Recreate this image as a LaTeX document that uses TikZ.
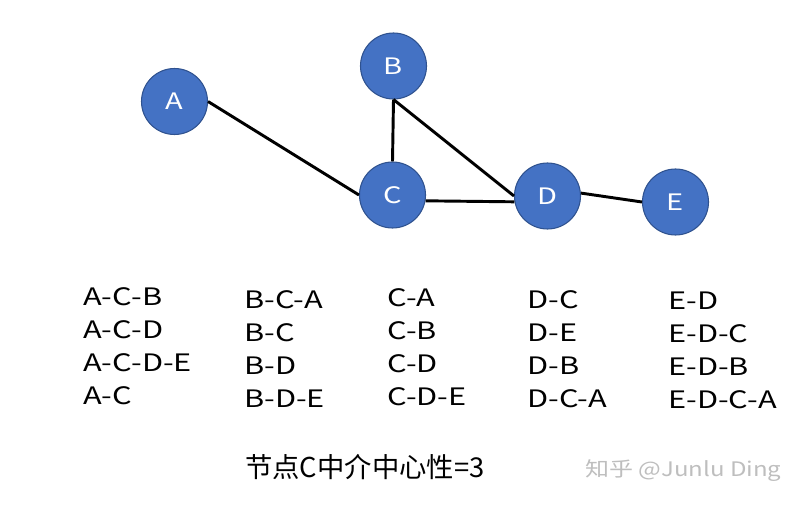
\documentclass[tikz,border=0pt]{standalone}
\usepackage{fontspec}
\setmainfont{Noto Sans CJK SC}
\newfontfamily\widefont[FakeStretch=1.28]{Noto Sans CJK SC}
\newfontfamily\markfont[FakeStretch=1.2]{Noto Sans CJK SC}
\usetikzlibrary{positioning}

\definecolor{nodeblue}{RGB}{68,114,196}
\definecolor{nodeedge}{RGB}{47,82,143}
\definecolor{markgray}{RGB}{190,190,190}

\tikzset{
    vertex/.style={circle, fill=nodeblue, draw=nodeedge, line width=0.8pt,
        minimum size=49.5pt, inner sep=0pt, text=white,
        font=\widefont\fontsize{17}{20}\selectfont},
    pathlist/.style={anchor=north west, inner sep=0pt, align=left,
        font=\widefont\fontsize{18}{24.75}\selectfont},
}

\begin{document}
\begin{tikzpicture}[x=0.75pt, y=-0.75pt]
\useasboundingbox (0,0) rectangle (800,506);

\begin{scope}[every node/.style={vertex}]
    \node (A) at (174.5,101.5){A};
    \node (B) at (393.5,66){B};
    \node (C) at (392.5,195){C};
    \node (D) at (547.5,196){D};
    \node (E) at (675.5,202){E};
\end{scope}

    \path [line width=2.2pt] (A.east) edge (C.west);
    \path [line width=2.2pt] (B.south) edge (C.north);
    \path [line width=2.2pt] (B.south) edge (D.west);
    \path [line width=2.2pt] (C.-10) edge (D.190);
    \path [line width=2.2pt] (D.5) edge (E.west);

    \node[pathlist] (fromA) at (83,287){A-C-B\\A-C-D\\A-C-D-E\\A-C};
    \node[pathlist] (fromB) at (244,290){B-C-A\\B-C\\B-D\\B-D-E};
    \node[pathlist] (fromC) at (387,288){C-A\\C-B\\C-D\\C-D-E};
    \node[pathlist] (fromD) at (527,290){D-C\\D-E\\D-B\\D-C-A};
    \node[pathlist] (fromE) at (668,292){E-D\\E-D-C\\E-D-B\\E-D-C-A};

    \node[anchor=base west, inner sep=0pt, font=\fontsize{20.5}{24}\selectfont]
        (result) at (245,477){节点C中介中心性=3};
    \node[anchor=base west, inner sep=0pt, text=markgray,
        font=\markfont\fontsize{15}{18}\selectfont] (mark) at (585,476){知乎 @Junlu Ding};

\end{tikzpicture}
\end{document}
